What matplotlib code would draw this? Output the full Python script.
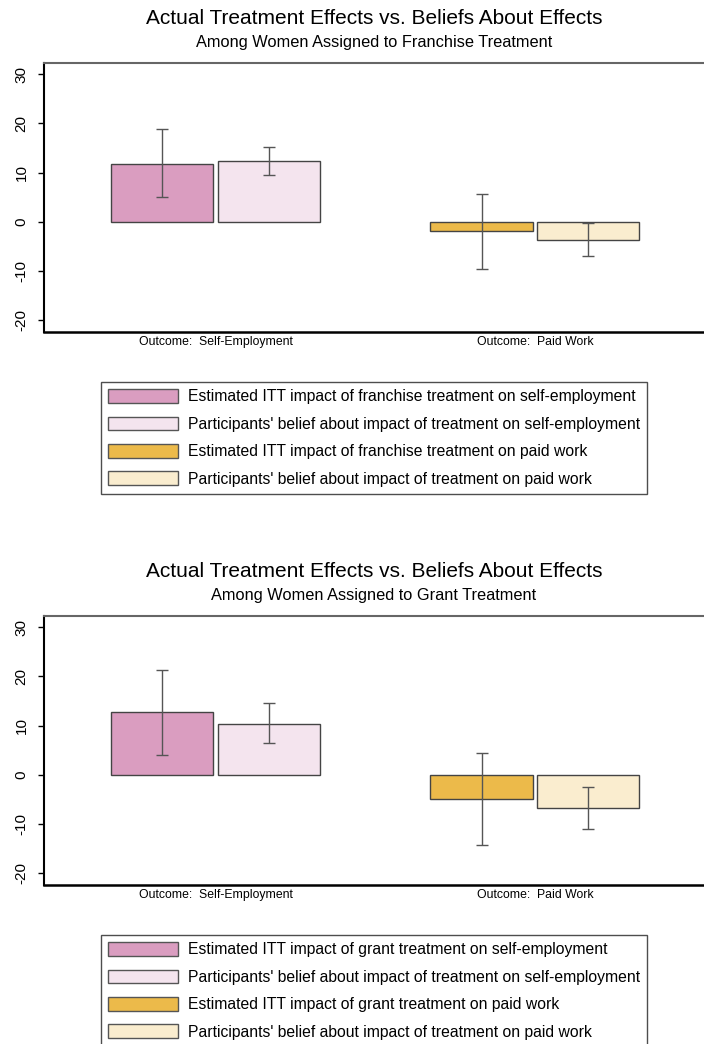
import matplotlib
matplotlib.use('Agg')
import matplotlib.pyplot as plt
from matplotlib.patches import Patch

plt.rcParams['font.family'] = ['Liberation Sans', 'DejaVu Sans']

# Outcomes on the x axis
outcomes = ['Outcome:  Self-Employment', 'Outcome:  Paid Work']

# Franchise treatment: point estimates and interval ends
franchise_itt = [11.8, -1.9]
franchise_itt_lo = [5.1, -9.5]
franchise_itt_hi = [18.8, 5.7]
franchise_belief = [12.3, -3.6]
franchise_belief_lo = [9.5, -7.0]
franchise_belief_hi = [15.2, -0.3]

# Grant treatment: point estimates and interval ends
grant_itt = [12.8, -4.9]
grant_itt_lo = [4.1, -14.2]
grant_itt_hi = [21.4, 4.4]
grant_belief = [10.4, -6.7]
grant_belief_lo = [6.4, -11.1]
grant_belief_hi = [14.7, -2.5]

yticks = [-20, -10, 0, 10, 20, 30]

# colours: (estimated, belief) for each outcome
colores = [('#DA9DC0', '#F4E4EE'), ('#ECBA4A', '#FAEDCF')]

W, H = 704, 1044
fig = plt.figure(figsize=(W / 100, H / 100), dpi=100)


def panel(top_px, treat, itt, itt_lo, itt_hi, bel, bel_lo, bel_hi):
    ax_top = top_px
    ax_bot = top_px + 269
    ax = fig.add_axes([44 / W, 1 - ax_bot / H, 1 - 44 / W, 269 / H])
    w = 0.32
    off = 0.167
    for i in range(len(outcomes)):
        c_est, c_bel = colores[i]
        ax.bar(i - off, itt[i], width=w, color=c_est, edgecolor='#444444', linewidth=1.0, zorder=2)
        ax.bar(i + off, bel[i], width=w, color=c_bel, edgecolor='#444444', linewidth=1.0, zorder=2)
        ax.errorbar([i - off], [itt[i]], yerr=[[itt[i] - itt_lo[i]], [itt_hi[i] - itt[i]]],
                    fmt='none', ecolor='#555555', elinewidth=1.0, capsize=4, capthick=1.0, zorder=3)
        ax.errorbar([i + off], [bel[i]], yerr=[[bel[i] - bel_lo[i]], [bel_hi[i] - bel[i]]],
                    fmt='none', ecolor='#555555', elinewidth=1.0, capsize=4, capthick=1.0, zorder=3)

    ax.set_xlim(-0.538, 1.53)
    ax.set_ylim(-22.4, 32.3)
    ax.set_yticks(yticks)
    ax.set_yticklabels([str(t) for t in yticks], rotation=90, va='center', fontsize=11)
    ax.tick_params(axis='y', length=4, width=1, pad=7)
    ax.set_xticks(range(len(outcomes)))
    ax.set_xticklabels(outcomes, fontsize=8.8)
    ax.tick_params(axis='x', length=0, pad=3)

    ax.spines['right'].set_visible(False)
    ax.spines['left'].set_linewidth(1.5)
    ax.spines['bottom'].set_linewidth(1.8)
    ax.spines['top'].set_color('#666666')
    ax.spines['top'].set_linewidth(1.5)

    cx = (44 + 704) / 2 / W
    fig.text(cx, 1 - (ax_top - 39) / H, 'Actual Treatment Effects vs. Beliefs About Effects',
             ha='center', va='baseline', fontsize=15)
    fig.text(cx, 1 - (ax_top - 16) / H, f'Among Women Assigned to {treat.title()} Treatment',
             ha='center', va='baseline', fontsize=11.8)

    handles = [
        Patch(facecolor=colores[0][0], edgecolor='#555555'),
        Patch(facecolor=colores[0][1], edgecolor='#555555'),
        Patch(facecolor=colores[1][0], edgecolor='#555555'),
        Patch(facecolor=colores[1][1], edgecolor='#555555'),
    ]
    labels = [
        f'Estimated ITT impact of {treat} treatment on self-employment',
        "Participants' belief about impact of treatment on self-employment",
        f'Estimated ITT impact of {treat} treatment on paid work',
        "Participants' belief about impact of treatment on paid work",
    ]
    leg = fig.legend(handles, labels, loc='upper left',
                     bbox_to_anchor=(101 / W, 1 - (ax_bot + 50) / H),
                     borderaxespad=0, fontsize=11.3, frameon=True, fancybox=False,
                     handlelength=4.46, handleheight=0.96, handletextpad=0.64,
                     labelspacing=0.78, borderpad=0.45)
    leg.get_frame().set_edgecolor('#222222')
    leg.get_frame().set_linewidth(1.0)


panel(63, 'franchise', franchise_itt, franchise_itt_lo, franchise_itt_hi,
      franchise_belief, franchise_belief_lo, franchise_belief_hi)
panel(616, 'grant', grant_itt, grant_itt_lo, grant_itt_hi,
      grant_belief, grant_belief_lo, grant_belief_hi)

fig.savefig('out.png', dpi=100)
